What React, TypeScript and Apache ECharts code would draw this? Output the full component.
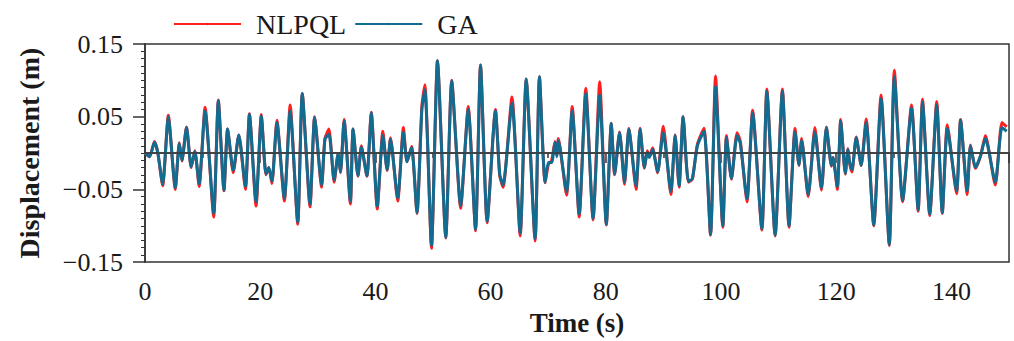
import React, { useEffect, useRef } from "react";
import * as echarts from "echarts";

const seriesNames = ["NLPQL", "GA"];

const times = [
  0, 0.8, 1.64, 2.21, 3.07, 4.05, 5.26, 5.95, 6.41, 7.21, 8.02, 8.65, 9.4, 10.43, 11.93, 12.73, 13.71, 14.34,
  15.32, 16.29, 17.44, 18.13, 19.28, 20.2, 21.0, 21.5, 22.04, 22.9, 24.2, 25.2, 26.52, 27.3, 28.65, 29.45,
  30.66, 31.24, 31.93, 32.84, 33.53, 33.94, 34.57, 35.66, 36.12, 36.98, 37.56, 38.53, 39.28, 40.32, 41.29,
  42.04, 42.62, 43.88, 44.86, 45.49, 46.29, 47.22, 48.07, 48.59, 49.74, 50.78, 52.22, 53.25, 54.8, 56.12,
  57.39, 58.25, 59.4, 60.84, 61.58, 62.16, 63.71, 65.14, 66.18, 67.73, 68.48, 69.46, 70.03, 70.6, 71.18,
  71.5, 71.76, 73.19, 74.17, 75.38, 76.53, 77.79, 78.94, 80.09, 80.95, 81.53, 82.39, 83.25, 84.0, 85.26,
  85.95, 86.7, 87.2, 87.56, 88.13, 89.0, 89.97, 91.3, 92.04, 92.73, 93.42, 94.34, 95.03, 95.9, 97.04,
  98.19, 99.05, 100.32, 100.95, 101.81, 102.79, 103.36, 104.52, 105.49, 107.1, 107.96, 109.4, 110.66,
  111.81, 112.85, 113.53, 114.0, 115.14, 116.3, 117.44, 118.3, 119.17, 119.45, 120.2, 120.78, 121.58,
  122.04, 122.33, 122.73, 123.48, 124.34, 125.2, 126.52, 127.79, 129.22, 130.09, 131.53, 133.08, 134.23,
  134.98, 136.24, 137.45, 138.42, 139.29, 140.9, 141.59, 142.74, 143.31, 144.18, 145.04, 145.9, 147.62,
  148.77, 149.6,
];

const gaValues = [
  0, -0.005, 0.015, 0.001, -0.043, 0.05, -0.048, 0.013, -0.01, 0.035, -0.019, 0.002, -0.042, 0.058, -0.083,
  0.072, -0.051, 0.033, -0.024, 0.025, -0.046, 0.053, -0.067, 0.051, -0.029, -0.02, -0.039, 0.042, -0.062,
  0.058, -0.095, 0.082, -0.07, 0.049, -0.044, 0.019, 0.026, -0.037, -0.001, -0.026, 0.044, -0.066, 0.033,
  -0.031, 0.008, -0.031, 0.055, -0.073, 0.024, -0.023, 0.019, -0.062, 0.029, -0.012, 0.008, -0.082, 0.06,
  0.087, -0.127, 0.127, -0.116, 0.099, -0.072, 0.06, -0.105, 0.121, -0.094, 0.058, -0.029, -0.044, 0.069,
  -0.11, 0.102, -0.118, 0.105, -0.04, -0.013, -0.013, 0.0145, -0.005, 0.017, -0.053, 0.058, -0.084, 0.082,
  -0.09, 0.08, -0.098, 0.041, -0.029, 0.028, -0.04, 0.033, -0.045, 0.033, -0.02, 0.001, -0.006, 0.005,
  -0.026, 0.028, -0.053, 0.024, -0.045, 0.05, -0.039, -0.035, 0.01, 0.03, -0.112, 0.092, -0.1, 0.021,
  -0.035, 0.024, 0.013, -0.063, 0.055, -0.104, 0.085, -0.113, 0.085, -0.1, 0.029, -0.016, 0.017, -0.057,
  0.029, -0.048, 0.035, -0.017, -0.006, -0.046, 0.044, -0.028, 0.005, -0.013, -0.023, 0.021, -0.017, 0.042,
  -0.099, 0.075, -0.126, 0.105, -0.065, 0.062, -0.078, 0.07, -0.084, 0.066, -0.082, 0.034, -0.052, 0.045,
  -0.052, 0.01, -0.02, -0.004, 0.02, -0.04, 0.035, 0.03,
];

const nlpqlValues = [
  0, -0.005, 0.016, 0.001, -0.045, 0.052, -0.05, 0.014, -0.011, 0.036, -0.02, 0.003, -0.046, 0.063, -0.088,
  0.073, -0.052, 0.033, -0.027, 0.025, -0.05, 0.054, -0.073, 0.053, -0.03, -0.02, -0.042, 0.045, -0.066,
  0.066, -0.098, 0.082, -0.074, 0.05, -0.047, 0.02, 0.033, -0.04, -0.001, -0.027, 0.046, -0.07, 0.033,
  -0.032, 0.01, -0.032, 0.056, -0.077, 0.03, -0.024, 0.021, -0.066, 0.035, -0.012, 0.009, -0.083, 0.065,
  0.094, -0.131, 0.127, -0.117, 0.1, -0.076, 0.064, -0.107, 0.121, -0.096, 0.06, -0.031, -0.047, 0.077,
  -0.114, 0.102, -0.121, 0.105, -0.041, -0.016, -0.01, 0.016, -0.003, 0.02, -0.058, 0.064, -0.088, 0.089,
  -0.092, 0.098, -0.099, 0.041, -0.03, 0.029, -0.043, 0.034, -0.05, 0.034, -0.021, 0.003, -0.004, 0.007,
  -0.027, 0.037, -0.057, 0.025, -0.047, 0.05, -0.04, -0.036, 0.012, 0.034, -0.113, 0.106, -0.102, 0.024,
  -0.036, 0.028, 0.016, -0.067, 0.059, -0.106, 0.088, -0.114, 0.088, -0.102, 0.034, -0.017, 0.02, -0.06,
  0.035, -0.051, 0.036, -0.018, -0.006, -0.05, 0.046, -0.029, 0.006, -0.014, -0.026, 0.022, -0.017, 0.047,
  -0.1, 0.08, -0.127, 0.114, -0.067, 0.066, -0.08, 0.074, -0.086, 0.071, -0.083, 0.039, -0.056, 0.046,
  -0.057, 0.011, -0.021, -0.005, 0.024, -0.044, 0.042, 0.036,
];

const xTickInterval = 20;
const yTicks = [-0.15, -0.05, 0.05, 0.15];

const FONT = "Liberation Serif";
const TEXT = "#1a1a1a";

export default function App() {
  const ref = useRef<HTMLDivElement>(null);

  useEffect(() => {
    if (!ref.current) return;
    const chart = echarts.init(ref.current, undefined, { renderer: "svg" });
    const nl = times.map((t, i) => [t, nlpqlValues[i]]);
    const ga = times.map((t, i) => [t, gaValues[i]]);
    chart.setOption({
      animation: false,
      textStyle: { fontFamily: FONT, color: TEXT },
      grid: {
        left: 145,
        right: 5,
        top: 44,
        bottom: 77,
        show: true,
        borderColor: "#333",
        borderWidth: 1.5,
        backgroundColor: "transparent",
      },
      legend: {
        data: seriesNames,
        left: 168,
        top: 5,
        itemWidth: 67,
        itemHeight: 3,
        itemGap: 8,
        textStyle: { fontFamily: FONT, fontSize: 28, color: TEXT, padding: [0, 0, 0, 10] },
      },
      xAxis: {
        type: "value",
        min: 0,
        max: 150,
        interval: xTickInterval,
        axisLine: { show: true, lineStyle: { color: "#333", width: 1.5 } },
        axisTick: { show: true, length: 10, lineStyle: { color: "#333", width: 1.5 } },
        minorTick: { show: true, splitNumber: 2, length: 5, lineStyle: { color: "#333", width: 1.5 } },
        splitLine: { show: false },
        axisLabel: {
          fontFamily: FONT,
          fontSize: 26,
          color: TEXT,
          margin: 16,
          showMaxLabel: false,
        },
        name: "Time (s)",
        nameLocation: "middle",
        nameGap: 45,
        nameTextStyle: { fontFamily: FONT, fontSize: 27, fontWeight: "bold", color: TEXT },
      },
      yAxis: {
        type: "value",
        min: yTicks[0],
        max: yTicks[yTicks.length - 1],
        interval: 0.1,
        axisLine: { show: true, lineStyle: { color: "#333", width: 1.5 } },
        axisTick: { show: true, length: 12, lineStyle: { color: "#333", width: 1.5 } },
        minorTick: { show: true, splitNumber: 10, length: 4, lineStyle: { color: "#333", width: 1 } },
        splitLine: { show: false },
        axisLabel: {
          fontFamily: FONT,
          fontSize: 26,
          color: TEXT,
          margin: 22,
          formatter: (v: number) => (v < 0 ? "\u2212" : "") + Math.abs(v).toFixed(2),
        },
        name: "Displacement (m)",
        nameLocation: "middle",
        nameGap: 102,
        nameRotate: 90,
        nameTextStyle: { fontFamily: FONT, fontSize: 28, fontWeight: "bold", color: TEXT },
      },
      series: [
        {
          name: seriesNames[0],
          type: "line",
          data: nl,
          symbol: "none",
          smooth: 0.2,
          color: "#ff1f1f",
          lineStyle: { width: 3, color: "#ff1f1f" },
          z: 2,
        },
        {
          name: seriesNames[1],
          type: "line",
          data: ga,
          symbol: "none",
          smooth: 0.2,
          color: "#126c90",
          lineStyle: { width: 3, color: "#126c90" },
          z: 3,
          markLine: {
            silent: true,
            symbol: ["none", "none"],
            label: { show: false },
            lineStyle: { color: "#3a3a3a", width: 1.5, type: "solid" },
            data: [{ yAxis: 0 }],
            z: 5,
          },
        },
      ],
    });
    return () => chart.dispose();
  }, []);

  return (
    <div
      ref={ref}
      style={{ position: "absolute", left: 0, top: 0, width: 1014, height: 341 }}
    />
  );
}
